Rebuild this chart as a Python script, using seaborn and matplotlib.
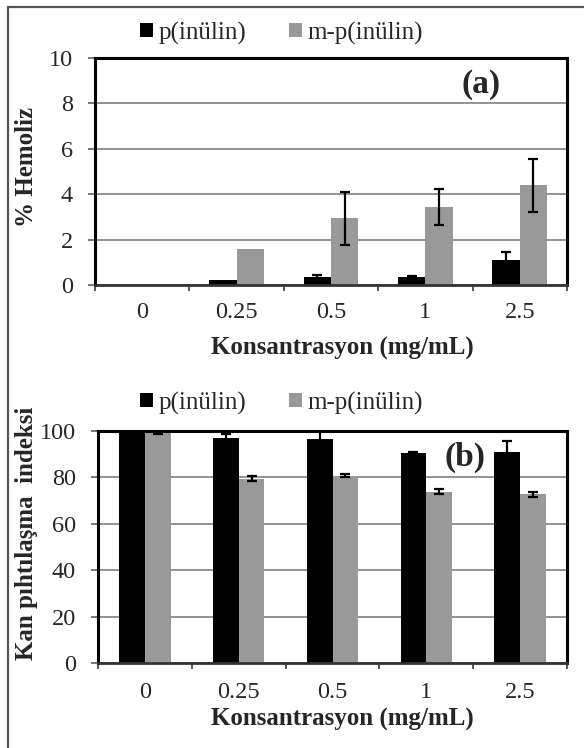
import matplotlib
matplotlib.use("Agg")
import matplotlib.pyplot as plt
import seaborn as sns
import pandas as pd
from matplotlib.lines import Line2D

# ---- data ----
concentrations = ["0", "0.25", "0.5", "1", "2.5"]
series = ["p(inülin)", "m-p(inülin)"]

hemo_p = [0.0, 0.22, 0.37, 0.35, 1.11]
hemo_p_err = [0.0, 0.0, 0.05, 0.05, 0.33]
hemo_m = [0.02, 1.57, 2.94, 3.44, 4.39]
hemo_m_err = [0.0, 0.0, 1.16, 0.80, 1.17]

clot_p = [100.0, 97.1, 96.4, 90.4, 90.9]
clot_p_err = [1.0, 1.7, 3.6, 0.5, 4.6]
clot_m = [100.0, 79.4, 80.8, 73.8, 72.7]
clot_m_err = [1.4, 1.0, 0.8, 1.0, 1.0]

sns.set_style("white")
plt.rcParams["font.family"] = ["Liberation Serif", "DejaVu Serif"]

BLACK = "#000000"
GRAY = "#999999"


def make_df(v1, e1, v2, e2):
    rows = []
    for name, vals, errs in ((series[0], v1, e1), (series[1], v2, e2)):
        for c, v, e in zip(concentrations, vals, errs):
            rows.append({"conc": c, "series": name, "val": v, "err": e})
    return pd.DataFrame(rows)


fig = plt.figure(figsize=(5.84, 7.48), dpi=100)
W, H = 584.0, 748.0


def panel(rect, df, ymax, ystep, width, ylabel, tag, tagpos, leg_xy, ylab_xy, xtick_pad):
    l, t, r, b = rect
    ax = fig.add_axes([l / W, 1 - b / H, (r - l) / W, (b - t) / H])
    sns.barplot(data=df, x="conc", y="val", hue="series", order=concentrations,
                hue_order=series, palette=[BLACK, GRAY], width=width,
                errorbar=None, linewidth=0, saturation=1, ax=ax)
    # error bars at the bar positions given by seaborn
    for cont, name in zip(ax.containers, series):
        sub = df[df["series"] == name].set_index("conc").loc[concentrations]
        xs = [p.get_x() + p.get_width() / 2 for p in cont]
        hs = [p.get_height() for p in cont]
        errs = sub["err"].values
        mask = errs > 0
        ax.errorbar([x for x, m in zip(xs, mask) if m], [h for h, m in zip(hs, mask) if m],
                    yerr=errs[mask], fmt="none", ecolor="black", elinewidth=1.6,
                    capsize=3.5, capthick=1.6, zorder=5)
    ax.set_ylim(0, ymax)
    ax.set_xlim(-0.5, len(concentrations) - 0.5)
    ax.set_yticks(range(0, ymax + 1, ystep))
    ax.grid(axis="y", color="#8a8a8a", linewidth=1.3)
    ax.grid(axis="x", visible=False)
    ax.set_axisbelow(True)
    for s in ("top", "left", "right"):
        ax.spines[s].set_visible(True)
        ax.spines[s].set_color("black")
        ax.spines[s].set_linewidth(2.2)
    ax.spines["bottom"].set_color("#333333")
    ax.spines["bottom"].set_linewidth(2.0)
    # category-boundary ticks
    ax.set_xticks([i - 0.5 for i in range(len(concentrations) + 1)], minor=True)
    ax.tick_params(axis="x", which="minor", length=4, width=1.4, color="#555555",
                   direction="out", bottom=True)
    ax.tick_params(axis="x", which="major", length=0, pad=xtick_pad, labelsize=17.5)
    ax.tick_params(axis="y", which="major", length=5, width=1.4, color="#777777",
                   direction="out", left=True, pad=11, labelsize=17.5)
    ax.set_xlabel("")
    ax.set_ylabel(ylabel, fontsize=18, fontweight="bold")
    ax.yaxis.set_label_coords(*ylab_xy)
    ax.text(tagpos[0], tagpos[1], tag, transform=ax.transAxes, ha="center", va="center",
            fontsize=24, fontweight="bold")
    sns.move_legend(ax, loc="center left", bbox_to_anchor=leg_xy, ncol=2, frameon=False,
                    title=None, fontsize=18, handlelength=0.5, handleheight=0.5,
                    handletextpad=0.25, columnspacing=1.7, borderpad=0, borderaxespad=0)
    return ax


dfa = make_df(hemo_p, hemo_p_err, hemo_m, hemo_m_err)
dfb = make_df(clot_p, clot_p_err, clot_m, clot_m_err)

axa = panel((95, 58, 567, 285), dfa, 10, 2, 0.58, "% Hemoliz", "(a)",
            ((481 - 95) / 472, (285 - 84) / 227),
            ((140 - 95) / 472, (285 - 33) / 227),
            ((38 - 95) / 472, 0.52), 12)
axb = panel((98, 431, 567, 663), dfb, 100, 20, 0.55, "Kan pıhtılaşma  indeksi", "(b)",
            ((465 - 98) / 469, (663 - 457) / 232),
            ((140 - 98) / 469, (663 - 403) / 232),
            ((38 - 98) / 469, 0.56), 13.5)

fig.text(342 / W, 1 - 348 / H, "Konsantrasyon (mg/mL)", ha="center", va="center",
         fontsize=18, fontweight="bold")
fig.text(342 / W, 1 - 719 / H, "Konsantrasyon (mg/mL)", ha="center", va="center",
         fontsize=18, fontweight="bold")

# outer frame lines (top and left)
fig.add_artist(Line2D([7.5 / W, 1.0], [1 - 6.5 / H, 1 - 6.5 / H], color="#555555", linewidth=1.6))
fig.add_artist(Line2D([7.5 / W, 7.5 / W], [0, 1 - 6.5 / H], color="#555555", linewidth=1.6))

fig.savefig("out.png", dpi=100)
